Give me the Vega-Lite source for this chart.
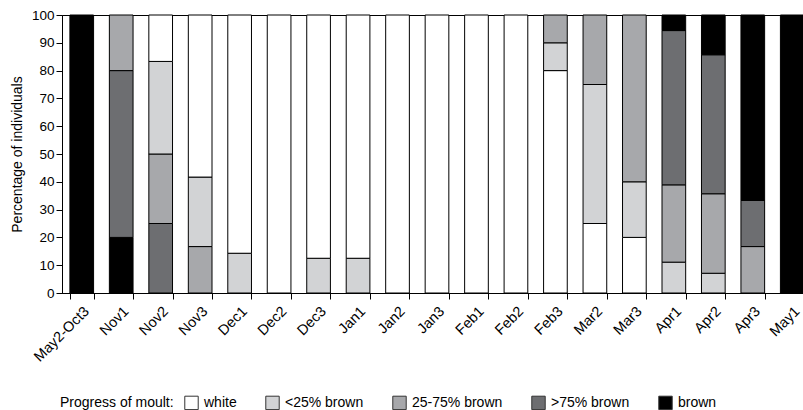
{
  "$schema": "https://vega.github.io/schema/vega-lite/v6.json",
  "width": 750,
  "height": 278,
  "autosize": {"type": "none"},
  "padding": {"left": 62, "top": 15, "right": 0, "bottom": 117},
  "background": "white",
  "config": {
    "font": "Liberation Sans",
    "view": {"stroke": "black", "strokeWidth": 1},
    "axis": {"labelColor": "black", "titleColor": "black", "domainColor": "black", "tickColor": "black", "grid": false, "labelFont": "Liberation Sans", "titleFont": "Liberation Sans"},
    "legend": {"labelFont": "Liberation Sans", "titleFont": "Liberation Sans"}
  },
  "data": {
    "values": [
      {"period": "May2-Oct3", "stage": "brown", "pct": 100},
      {"period": "Nov1", "stage": "brown", "pct": 20},
      {"period": "Nov1", "stage": ">75% brown", "pct": 60},
      {"period": "Nov1", "stage": "25-75% brown", "pct": 20},
      {"period": "Nov2", "stage": ">75% brown", "pct": 25},
      {"period": "Nov2", "stage": "25-75% brown", "pct": 25},
      {"period": "Nov2", "stage": "<25% brown", "pct": 33.3},
      {"period": "Nov2", "stage": "white", "pct": 16.7},
      {"period": "Nov3", "stage": "25-75% brown", "pct": 16.7},
      {"period": "Nov3", "stage": "<25% brown", "pct": 25},
      {"period": "Nov3", "stage": "white", "pct": 58.3},
      {"period": "Dec1", "stage": "<25% brown", "pct": 14.3},
      {"period": "Dec1", "stage": "white", "pct": 85.7},
      {"period": "Dec2", "stage": "white", "pct": 100},
      {"period": "Dec3", "stage": "<25% brown", "pct": 12.5},
      {"period": "Dec3", "stage": "white", "pct": 87.5},
      {"period": "Jan1", "stage": "<25% brown", "pct": 12.5},
      {"period": "Jan1", "stage": "white", "pct": 87.5},
      {"period": "Jan2", "stage": "white", "pct": 100},
      {"period": "Jan3", "stage": "white", "pct": 100},
      {"period": "Feb1", "stage": "white", "pct": 100},
      {"period": "Feb2", "stage": "white", "pct": 100},
      {"period": "Feb3", "stage": "white", "pct": 80},
      {"period": "Feb3", "stage": "<25% brown", "pct": 10},
      {"period": "Feb3", "stage": "25-75% brown", "pct": 10},
      {"period": "Mar2", "stage": "white", "pct": 25},
      {"period": "Mar2", "stage": "<25% brown", "pct": 50},
      {"period": "Mar2", "stage": "25-75% brown", "pct": 25},
      {"period": "Mar3", "stage": "white", "pct": 20},
      {"period": "Mar3", "stage": "<25% brown", "pct": 20},
      {"period": "Mar3", "stage": "25-75% brown", "pct": 60},
      {"period": "Apr1", "stage": "<25% brown", "pct": 11.1},
      {"period": "Apr1", "stage": "25-75% brown", "pct": 27.8},
      {"period": "Apr1", "stage": ">75% brown", "pct": 55.5},
      {"period": "Apr1", "stage": "brown", "pct": 5.6},
      {"period": "Apr2", "stage": "<25% brown", "pct": 7.1},
      {"period": "Apr2", "stage": "25-75% brown", "pct": 28.6},
      {"period": "Apr2", "stage": ">75% brown", "pct": 50},
      {"period": "Apr2", "stage": "brown", "pct": 14.3},
      {"period": "Apr3", "stage": "25-75% brown", "pct": 16.7},
      {"period": "Apr3", "stage": ">75% brown", "pct": 16.6},
      {"period": "Apr3", "stage": "brown", "pct": 66.7},
      {"period": "May1", "stage": "brown", "pct": 100}
    ]
  },
  "transform": [
    {"calculate": "indexof(['white','<25% brown','25-75% brown','>75% brown','brown'], datum.stage)", "as": "idx"},
    {"calculate": "indexof(['Feb3','Mar2','Mar3','Apr1','Apr2','Apr3','May1'], datum.period) >= 0 ? datum.idx : 4 - datum.idx", "as": "stackOrder"}
  ],
  "mark": {"type": "bar", "stroke": "black", "strokeWidth": 1},
  "encoding": {
    "x": {
      "field": "period",
      "type": "nominal",
      "sort": ["May2-Oct3","Nov1","Nov2","Nov3","Dec1","Dec2","Dec3","Jan1","Jan2","Jan3","Feb1","Feb2","Feb3","Mar2","Mar3","Apr1","Apr2","Apr3","May1"],
      "scale": {"paddingInner": 0.4, "paddingOuter": 0.2},
      "axis": {"title": null, "labelAngle": -45, "labelAlign": "right", "labelBaseline": "top", "labelFontSize": 14.5, "tickBand": "extent", "tickSize": 6, "labelPadding": 5}
    },
    "y": {
      "field": "pct",
      "type": "quantitative",
      "stack": "zero",
      "scale": {"domain": [0, 100], "nice": false},
      "axis": {"title": "Percentage of individuals", "values": [0,10,20,30,40,50,60,70,80,90,100], "labelFontSize": 13.5, "titleFontSize": 14, "titleFontWeight": "normal", "tickSize": 6, "labelPadding": 2, "titlePadding": 7}
    },
    "color": {
      "field": "stage",
      "type": "nominal",
      "scale": {"domain": ["white","<25% brown","25-75% brown",">75% brown","brown"], "range": ["#ffffff","#d2d3d5","#a7a8ab","#6d6e71","#000000"]},
      "legend": {
        "title": "Progress of moult:",
        "orient": "none",
        "legendX": -2,
        "legendY": 380,
        "direction": "horizontal",
        "columns": 5,
        "titleOrient": "left",
        "titleFontSize": 14,
        "titleFontWeight": "normal",
        "titleColor": "black",
        "titlePadding": 10,
        "labelFontSize": 14,
        "labelColor": "black",
        "labelOffset": 5,
        "columnPadding": 26,
        "symbolType": "square",
        "symbolSize": 180,
        "symbolStrokeColor": "#333333",
        "symbolStrokeWidth": 1
      }
    },
    "order": {"field": "stackOrder", "type": "quantitative"}
  }
}
